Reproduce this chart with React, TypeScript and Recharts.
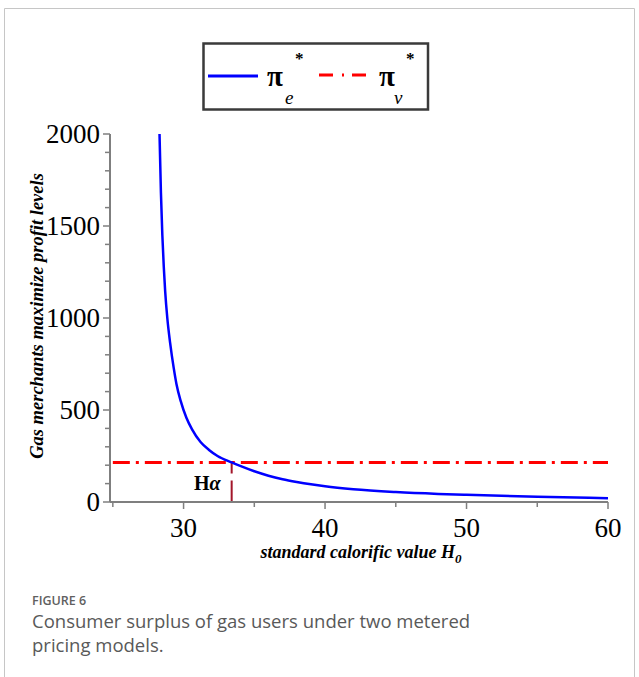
import React from 'react';
import { LineChart, Line, XAxis, YAxis, ReferenceDot, Label } from 'recharts';

// standard calorific value H0 (x) and profit level pi_e* (y)
const hValues = [28.3, 28.4, 28.5, 28.6, 28.7, 28.85, 29.05, 29.3, 29.5, 29.8, 30.2, 30.6, 31.2, 31.8, 32.4, 33.4, 34, 35, 36, 37, 38, 39, 40, 42, 45, 48, 50, 55, 60];
const piEValues = [2000, 1680, 1450, 1280, 1145, 1000, 865, 730, 640, 548, 458, 395, 326, 283, 250, 215, 196, 167, 143, 124, 109, 96, 85, 69, 54, 44, 39, 29, 21];
// pi_v* is constant
const piVH = [25, 60];
const piVValues = [215, 215];
// H alpha marker
const hAlphaH = [33.4, 33.4];
const hAlphaValues = [215, 0];

const xTicks = [25, 30, 35, 40, 45, 50, 55, 60];
const xTickLabels = [30, 40, 50, 60];
const yTicks = [0, 100, 200, 300, 400, 500, 600, 700, 800, 900, 1000, 1100, 1200, 1300, 1400, 1500, 1600, 1700, 1800, 1900, 2000];
const yTickLabels = [0, 500, 1000, 1500, 2000];

const peData = hValues.map((h, i) => ({ h, v: piEValues[i] }));
const pvData = piVH.map((h, i) => ({ h, v: piVValues[i] }));
const haData = hAlphaH.map((h, i) => ({ h, v: hAlphaValues[i] }));

const SERIF = '"Liberation Serif", "Times New Roman", serif';
const SANS = '"Open Sans", "Noto Sans", sans-serif';
const AXIS = '#7f7f7f';

const XTick = (props: any) => {
  const { x, y, payload } = props;
  const major = xTickLabels.includes(payload.value);
  return (
    <g>
      <line x1={x} x2={x} y1={y} y2={y + (major ? 7 : 5)} stroke={AXIS} strokeWidth={1.5} />
      {major && (
        <text x={x} y={y + 35} textAnchor="middle" fontSize={27} fontFamily={SERIF} fill="#000">
          {payload.value}
        </text>
      )}
    </g>
  );
};

const YTick = (props: any) => {
  const { x, y, payload } = props;
  const major = yTickLabels.includes(payload.value);
  return (
    <g>
      <line x1={x} x2={x - (major ? 7 : 5)} y1={y} y2={y} stroke={AXIS} strokeWidth={1.5} />
      {major && (
        <text x={x - 10} y={y + 9} textAnchor="end" fontSize={27} fontFamily={SERIF} fill="#000">
          {payload.value}
        </text>
      )}
    </g>
  );
};

const HaLabel = (props: any) => {
  const vb = props.viewBox || {};
  const x = vb.x ?? 231;
  const y = vb.y ?? 502;
  return (
    <text x={x - 11} y={y - 12} textAnchor="end" fontSize={20} fontFamily={SERIF} fontWeight="bold" fill="#000">
      H<tspan fontStyle="italic">α</tspan>
    </text>
  );
};

export default function App() {
  return (
    <div style={{ position: 'absolute', left: 0, top: 0, width: 639, height: 677, background: '#fff', overflow: 'hidden' }}>
      <LineChart
        width={639}
        height={580}
        margin={{ top: 134, right: 31, bottom: 77, left: 109 }}
        style={{ position: 'absolute', left: 0, top: 0 }}
      >
        <XAxis
          type="number"
          dataKey="h"
          domain={[24.8, 60]}
          ticks={xTicks}
          interval={0}
          allowDataOverflow
          height={1}
          tickSize={0}
          tickMargin={0}
          tickLine={false}
          axisLine={{ stroke: AXIS, strokeWidth: 2 }}
          tick={(p: any) => <XTick {...p} />}
        />
        <YAxis
          type="number"
          domain={[0, 2000]}
          ticks={yTicks}
          interval={0}
          allowDataOverflow
          width={1}
          tickSize={0}
          tickMargin={0}
          tickLine={false}
          axisLine={{ stroke: AXIS, strokeWidth: 2 }}
          tick={(p: any) => <YTick {...p} />}
        />
        <Line data={haData} dataKey="v" stroke="#a3162a" strokeWidth={2} strokeDasharray="11 7 40" dot={false} isAnimationActive={false} />
        <Line data={pvData} dataKey="v" stroke="#ff0000" strokeWidth={3} strokeDasharray="17 6 3 6" dot={false} isAnimationActive={false} />
        <Line data={peData} dataKey="v" type="monotone" stroke="#0000ff" strokeWidth={2.5} dot={false} isAnimationActive={false} />
        <ReferenceDot x={33.4} y={0} r={0} fill="none" stroke="none">
          <Label content={HaLabel} />
        </ReferenceDot>
      </LineChart>

      <svg width={639} height={677} style={{ position: 'absolute', left: 0, top: 0, pointerEvents: 'none' }}>
        {/* frame */}
        <path d="M4.5 677 V8.5 H634.5 V677" fill="none" stroke="#c6c6c6" strokeWidth={1} />
        {/* legend */}
        <rect x={203.5} y={43.5} width={224.5} height={66} fill="#fff" stroke="#3a3a3a" strokeWidth={2.5} />
        <line x1={208} x2={258} y1={76} y2={76} stroke="#0000ff" strokeWidth={3} />
        <text x={267} y={86} fontSize={29} fontWeight="bold" fontFamily={SERIF} fill="#000">π</text>
        <text x={295} y={64} fontSize={17} fontWeight="bold" fontFamily={SERIF} fill="#000">*</text>
        <text x={285} y={104} fontSize={19} fontStyle="italic" fontFamily={SERIF} fill="#000">e</text>
        <line x1={319} x2={367} y1={75} y2={75} stroke="#ff0000" strokeWidth={3} strokeDasharray="14 9 2 8" />
        <text x={379} y={86} fontSize={29} fontWeight="bold" fontFamily={SERIF} fill="#000">π</text>
        <text x={406} y={64} fontSize={17} fontWeight="bold" fontFamily={SERIF} fill="#000">*</text>
        <text x={394} y={104} fontSize={19} fontStyle="italic" fontFamily={SERIF} fill="#000">v</text>
        {/* y axis title */}
        <text
          x={37}
          y={316}
          transform="rotate(-90 37 316)"
          textAnchor="middle"
          dominantBaseline="central"
          fontSize={18.5}
          fontWeight="bold"
          fontStyle="italic"
          fontFamily={SERIF}
          fill="#000"
        >
          Gas merchants maximize profit levels
        </text>
        {/* x axis title */}
        <text x={361} y={558} textAnchor="middle" fontSize={18} fontWeight="bold" fontStyle="italic" fontFamily={SERIF} fill="#000">
          standard calorific value H<tspan fontSize={13} dy={5}>0</tspan>
        </text>
      </svg>

      <div style={{ position: 'absolute', left: 32, top: 593, fontFamily: SANS, fontSize: 12.5, fontWeight: 600, color: '#606060', lineHeight: '16px' }}>
        FIGURE 6
      </div>
      <div style={{ position: 'absolute', left: 32, top: 609, width: 480, fontFamily: SANS, fontSize: 18.5, color: '#595959', lineHeight: '24px' }}>
        Consumer surplus of gas users under two metered pricing models.
      </div>
    </div>
  );
}
